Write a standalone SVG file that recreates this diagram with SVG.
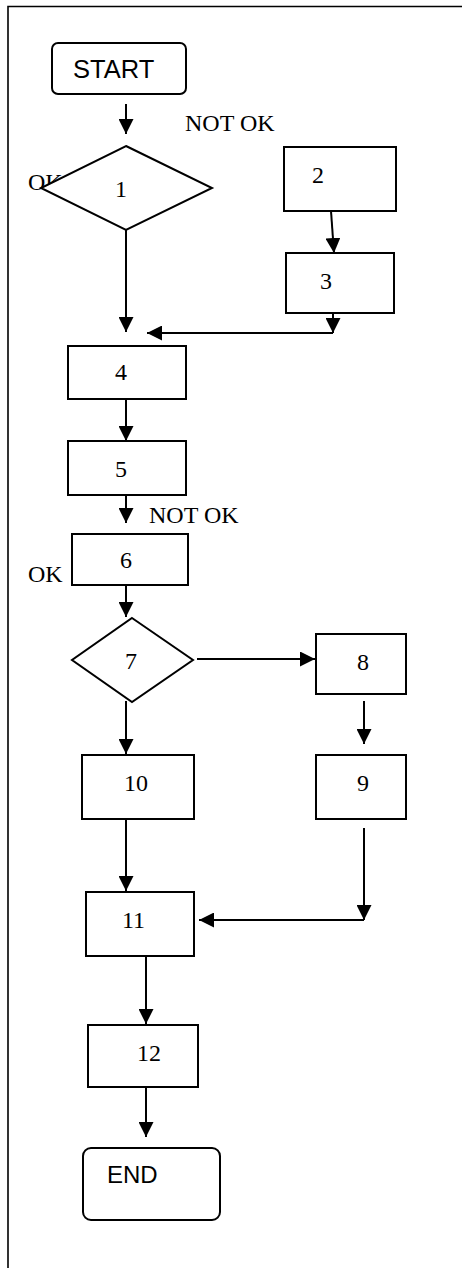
<svg xmlns="http://www.w3.org/2000/svg" width="462" height="1268" viewBox="0 0 462 1268">
  <style>
    .shape { fill: #ffffff; stroke: #000000; stroke-width: 2; }
    .conn { fill: none; stroke: #000000; stroke-width: 2; }
    .frame { fill: none; stroke: #000000; stroke-width: 1.6; }
    .num { font-family: "Liberation Serif", "Times New Roman", serif; font-size: 24px; fill: #000000; }
    .term { font-family: "Liberation Sans", Arial, sans-serif; font-size: 25.5px; fill: #000000; }
  </style>
  <defs>
    <marker id="arrow" markerUnits="userSpaceOnUse" markerWidth="15" markerHeight="15" refX="15" refY="7.5" orient="auto">
      <path d="M0,0 L15,7.5 L0,15 z" fill="#000000"/>
    </marker>
  </defs>

  <rect width="462" height="1268" fill="#ffffff"/>

  <!-- page frame (runs off the right and bottom edges) -->
  <path class="frame" d="M8,1268 L8,6.5 L462,6.5"/>

  <!-- branch labels (the OK beside decision 1 sits under the diamond) -->
  <g id="labels">
    <text class="num" x="185" y="131">NOT OK</text>
    <text class="num" x="28" y="190">OK</text>
    <text class="num" x="149" y="523">NOT OK</text>
    <text class="num" x="28" y="582">OK</text>
  </g>

  <g id="start">
    <rect class="shape" x="52" y="43" width="134" height="51" rx="6"/>
    <text class="term" x="73" y="78">START</text>
  </g>

  <g id="n1">
    <polygon class="shape" points="126,146 212,188 126,230 41,188"/>
    <text class="num" x="115" y="197">1</text>
  </g>

  <g id="n2">
    <rect class="shape" x="284" y="147" width="112" height="64"/>
    <text class="num" x="312" y="183">2</text>
  </g>

  <g id="n3">
    <rect class="shape" x="286" y="253" width="108" height="60"/>
    <text class="num" x="320" y="289">3</text>
  </g>

  <g id="n4">
    <rect class="shape" x="68" y="346" width="118" height="53"/>
    <text class="num" x="115" y="380">4</text>
  </g>

  <g id="n5">
    <rect class="shape" x="68" y="441" width="118" height="54"/>
    <text class="num" x="115" y="477">5</text>
  </g>

  <g id="n6">
    <rect class="shape" x="72" y="534" width="116" height="51"/>
    <text class="num" x="120" y="568">6</text>
  </g>

  <g id="n7">
    <polygon class="shape" points="132,618 193,660 132,702 72,660"/>
    <text class="num" x="125" y="669">7</text>
  </g>

  <g id="n8">
    <rect class="shape" x="316" y="634" width="90" height="60"/>
    <text class="num" x="357" y="670">8</text>
  </g>

  <g id="n9">
    <rect class="shape" x="316" y="755" width="90" height="64"/>
    <text class="num" x="357" y="791">9</text>
  </g>

  <g id="n10">
    <rect class="shape" x="82" y="755" width="112" height="64"/>
    <text class="num" x="124" y="791">10</text>
  </g>

  <g id="n11">
    <rect class="shape" x="86" y="892" width="108" height="64"/>
    <text class="num" x="122" y="928">11</text>
  </g>

  <g id="n12">
    <rect class="shape" x="88" y="1025" width="110" height="62"/>
    <text class="num" x="137" y="1061">12</text>
  </g>

  <g id="end">
    <rect class="shape" x="83" y="1148" width="137" height="72" rx="8"/>
    <text class="term" x="107" y="1183" style="font-size:24px">END</text>
  </g>

  <g id="connectors">
    <path class="conn" marker-end="url(#arrow)" d="M126,104 L126,134"/>
    <path class="conn" marker-end="url(#arrow)" d="M126,230 L126,332"/>
    <path class="conn" marker-end="url(#arrow)" d="M331,211 L334,253"/>
    <path class="conn" marker-end="url(#arrow)" d="M333,313 L333,333"/>
    <path class="conn" marker-end="url(#arrow)" d="M333,333 L147,333"/>
    <path class="conn" marker-end="url(#arrow)" d="M126,399 L126,441"/>
    <path class="conn" marker-end="url(#arrow)" d="M126,495 L126,523"/>
    <path class="conn" marker-end="url(#arrow)" d="M126,585 L126,617"/>
    <path class="conn" marker-end="url(#arrow)" d="M197,659 L315,659"/>
    <path class="conn" marker-end="url(#arrow)" d="M364,701 L364,744"/>
    <path class="conn" marker-end="url(#arrow)" d="M126,701 L126,754"/>
    <path class="conn" marker-end="url(#arrow)" d="M126,819 L126,891"/>
    <path class="conn" marker-end="url(#arrow)" d="M364,828 L364,920"/>
    <path class="conn" marker-end="url(#arrow)" d="M364,920 L199,920"/>
    <path class="conn" marker-end="url(#arrow)" d="M146,956 L146,1024"/>
    <path class="conn" marker-end="url(#arrow)" d="M146,1087 L146,1137"/>
  </g>
</svg>
